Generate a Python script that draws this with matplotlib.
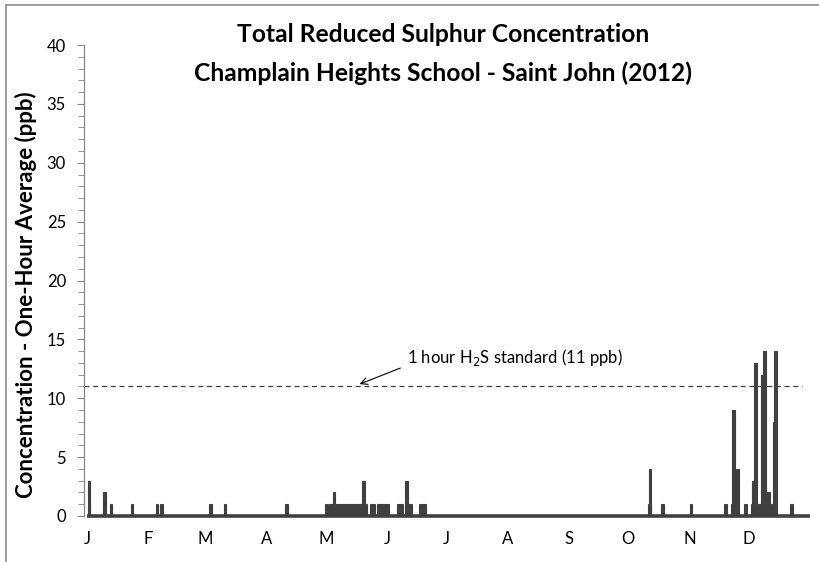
import matplotlib
matplotlib.use("Agg")
import matplotlib.pyplot as plt
from matplotlib.lines import Line2D
from matplotlib.ticker import MultipleLocator

plt.rcParams['font.family'] = ['Lato', 'DejaVu Sans']

# month labels placed at the first day of each month (day of year, 2012)
month_labels = ['J', 'F', 'M', 'A', 'M', 'J', 'J', 'A', 'S', 'O', 'N', 'D']
month_start = [0, 31, 60, 91, 121, 152, 182, 213, 244, 274, 305, 335]

# TRS episodes: start day, duration (days), ppb
event_day = [0.3, 0.9, 8.0, 11.5, 22.1, 34.7, 37.0, 61.7, 69.2, 100.2,
             120.4, 122.0, 124.3, 139.1, 143.2, 146.8, 156.9, 161.2, 161.9, 168.0,
             284.0, 284.3, 290.8, 305.0, 322.7, 325.8, 326.5, 328.7, 332.5,
             336.0, 336.4, 337.7, 339.5, 341.1, 342.3, 344.2, 345.5, 347.2,
             348.0, 356.0]
event_len = [1.4, 0.8, 1.4, 1.4, 1.4, 1.4, 1.4, 1.4, 1.4, 1.4,
             1.0, 19.5, 1.4, 1.4, 2.5, 6.0, 3.0, 1.4, 2.6, 3.6,
             1.5, 1.4, 1.4, 1.4, 1.4, 3.8, 1.4, 1.4, 1.4,
             2.5, 1.4, 1.4, 4.5, 1.5, 1.4, 1.4, 1.5, 1.4,
             1.4, 1.4]
event_ppb = [3, 1, 2, 1, 1, 1, 1, 1, 1, 1,
             1, 1, 2, 3, 1, 1, 1, 3, 1, 1,
             1, 4, 1, 1, 1, 1, 9, 4, 1,
             1, 3, 13, 1, 12, 14, 2, 1, 8,
             14, 1]

standard = 11
year_days = 366

fig = plt.figure(figsize=(8.2, 5.62), dpi=100)
ax = fig.add_axes([84 / 820, 1 - 516 / 562, 728 / 820, 471 / 562])

dark = '#404040'
ax.bar(event_day, event_ppb, width=event_len, align='edge', color=dark,
       edgecolor=dark, linewidth=0.8, zorder=3)
ax.plot([0, year_days], [0, 0], color=dark, lw=2.6, solid_capstyle='butt',
        clip_on=False, zorder=4)
ax.plot([-1.5, 362], [standard, standard], color='#404040', lw=0.9,
        ls=(0, (4, 3)), zorder=2)

ax.annotate('1 hour H$_2$S standard (11 ppb)', xy=(138, standard + 0.2),
            xytext=(162, 13.5), fontsize=12, va='center', ha='left',
            arrowprops=dict(arrowstyle='->', color='black', lw=0.8,
                            relpos=(0, 0.1), shrinkA=3, shrinkB=0))

ax.set_xlim(-1.5, 367)
ax.set_ylim(0, 40)
ax.yaxis.set_major_locator(MultipleLocator(5))
ax.yaxis.set_minor_locator(MultipleLocator(1))
ax.set_xticks(month_start)
ax.set_xticklabels(month_labels)
ax.tick_params(axis='x', length=0, pad=11, labelsize=12)
ax.tick_params(axis='y', which='major', length=5, color='#868686',
               direction='out', labelsize=12, pad=8)
ax.tick_params(axis='y', which='minor', length=4, color='#868686',
               direction='out')
for s in ['top', 'right', 'bottom']:
    ax.spines[s].set_visible(False)
ax.spines['left'].set_color('#868686')
ax.spines['left'].set_linewidth(0.9)

ax.set_ylabel('Concentration - One-Hour Average (ppb)', fontsize=16,
              fontweight='bold')
ax.yaxis.set_label_coords(-0.065, 0.469)
fig.text(443 / 820, 1 - 35 / 562, 'Total Reduced Sulphur Concentration',
         ha='center', va='center', fontsize=17.7, fontweight='bold')
fig.text(443 / 820, 1 - 73 / 562, 'Champlain Heights School - Saint John (2012)',
         ha='center', va='center', fontsize=17.7, fontweight='bold')

# chart frame (runs off the right and bottom of the picture)
fig.lines.append(Line2D([6 / 820, 1], [1 - 5 / 562, 1 - 5 / 562],
                        transform=fig.transFigure, color='#8c8c8c', lw=1.2))
fig.lines.append(Line2D([6 / 820, 6 / 820], [0, 1 - 5 / 562],
                        transform=fig.transFigure, color='#8c8c8c', lw=1.2))

fig.savefig('out.png', dpi=100)
